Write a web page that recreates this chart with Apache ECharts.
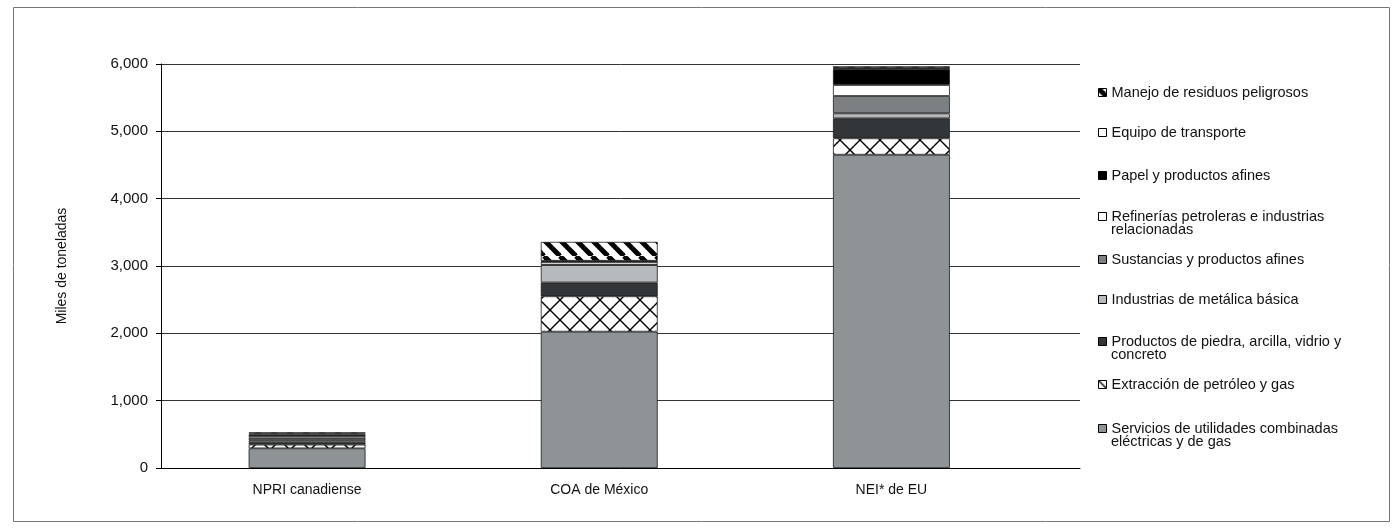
<!DOCTYPE html>
<html><head><meta charset="utf-8">
<script src="https://cdn.jsdelivr.net/npm/echarts@6/dist/echarts.min.js"></script>
<style>html,body{margin:0;padding:0;background:#fff}#c{width:1399px;height:530px}</style>
</head><body><div id="c"></div>
<script>
// ---- data ----
const categories = ['NPRI canadiense', 'COA de México', 'NEI* de EU'];
const yTicks = [0, 1000, 2000, 3000, 4000, 5000, 6000];
// series, bottom of stack to top (miles de toneladas)
const servicios   = [292, 2025, 4653];
const extraccion  = [55, 525, 243];
const piedra      = [35, 205, 297];
const metalica    = [30, 260, 74];
const sustancias  = [30, 5, 258];
const refinerias  = [30, 40, 163];
const papel       = [25, 8, 238];
const equipo      = [15, 10, 15];
const manejo      = [18, 280, 25];

const names = {
  servicios: 'Servicios de utilidades combinadas\neléctricas y de gas',
  extraccion: 'Extracción de petróleo y gas',
  piedra: 'Productos de piedra, arcilla, vidrio y\nconcreto',
  metalica: 'Industrias de metálica básica',
  sustancias: 'Sustancias y productos afines',
  refinerias: 'Refinerías petroleras e industrias\nrelacionadas',
  papel: 'Papel y productos afines',
  equipo: 'Equipo de transporte',
  manejo: 'Manejo de residuos peligrosos'
};

const FONT = 'Liberation Sans, Arial, sans-serif';

// ---- patterns ----
function crossPattern() {
  const s = 20;
  const c = document.createElement('canvas'); c.width = s; c.height = s;
  const g = c.getContext('2d');
  g.fillStyle = '#fff'; g.fillRect(0, 0, s, s);
  g.strokeStyle = '#000'; g.lineWidth = 1.4;
  g.beginPath(); g.moveTo(0, s); g.lineTo(s, 0); g.stroke();
  g.beginPath(); g.moveTo(0, 0); g.lineTo(s, s); g.stroke();
  return c;
}
function stripePattern() {
  const s = 16;
  const c = document.createElement('canvas'); c.width = s; c.height = s;
  const g = c.getContext('2d');
  g.fillStyle = '#fff'; g.fillRect(0, 0, s, s);
  g.strokeStyle = '#000'; g.lineWidth = 5;
  for (let k = -1; k <= 1; k++) {
    g.beginPath(); g.moveTo(k * s, 0); g.lineTo(k * s + s, s); g.stroke();
  }
  return c;
}
const crossFill = { image: crossPattern(), repeat: 'repeat' };
const stripeFill = { image: stripePattern(), repeat: 'repeat' };

const defs = [
  ['servicios', servicios, '#8e9396'],
  ['extraccion', extraccion, crossFill],
  ['piedra', piedra, '#323638'],
  ['metalica', metalica, '#b6babd'],
  ['sustancias', sustancias, '#7c8083'],
  ['refinerias', refinerias, '#ffffff'],
  ['papel', papel, '#000000'],
  ['equipo', equipo, '#ffffff'],
  ['manejo', manejo, stripeFill]
];

const series = defs.map(d => ({
  name: names[d[0]],
  type: 'bar',
  stack: 'total',
  barWidth: '40%',
  xAxisIndex: 0, yAxisIndex: 0,
  data: d[1],
  itemStyle: { color: d[2], borderColor: '#1a1a1a', borderWidth: 0.8 },
  emphasis: { disabled: true }
}));

// legend: top to bottom, [key, center y of first line]
const legendOrder = [
  ['manejo', 92], ['equipo', 132], ['papel', 175], ['refinerias', 216],
  ['sustancias', 259], ['metalica', 299], ['piedra', 341], ['extraccion', 384], ['servicios', 428]
];
const LEG_LEFT = 1098, LEG_TEXT_X = 1111, LINE_H = 14, LEG_FS = 14.5;

const legends = legendOrder.map(l => ({
  data: [names[l[0]]],
  left: LEG_LEFT, top: l[1] - LINE_H / 2,
  padding: 0,
  orient: 'vertical',
  icon: 'rect', itemWidth: 8, itemHeight: 8, itemGap: 0,
  selectedMode: false,
  formatter: n => n.split('\n')[0],
  itemStyle: { borderColor: '#000', borderWidth: 1 },
  textStyle: { fontFamily: FONT, fontSize: LEG_FS, color: '#111', lineHeight: LINE_H, padding: [0, 0, 0, 0] }
}));

// second lines of two-line legend entries
const secondLines = legendOrder.filter(l => names[l[0]].indexOf('\n') >= 0).map(l => ({
  type: 'text', silent: true,
  x: LEG_TEXT_X, y: l[1] + 14,
  style: { text: names[l[0]].split('\n')[1], font: LEG_FS + 'px ' + FONT, fill: '#111', verticalAlign: 'middle' }
}));

const chart = echarts.init(document.getElementById('c'), null, { renderer: 'canvas' });
chart.setOption({
  animation: false,
  backgroundColor: '#fff',
  graphic: [{
    type: 'rect', shape: { x: 13.5, y: 7.5, width: 1376, height: 514 },
    style: { fill: 'none', stroke: '#777', lineWidth: 1 }, silent: true
  }].concat(secondLines),
  legend: legends,
  grid: [
    { left: 161, top: 64, right: 361.5, bottom: 62, containLabel: false },
    { left: 161, top: 64, right: 319, bottom: 62, containLabel: false }
  ],
  xAxis: [{
    gridIndex: 0,
    type: 'category', data: categories,
    axisLine: { show: false },
    axisTick: { show: false },
    axisLabel: { fontFamily: FONT, fontSize: 14, color: '#111', margin: 15 }
  }, {
    gridIndex: 1, type: 'value', min: 0, max: 1,
    axisLine: { show: true, onZero: false, lineStyle: { color: '#000', width: 1 } },
    axisTick: { show: false }, axisLabel: { show: false }, splitLine: { show: false }
  }],
  yAxis: [{
    gridIndex: 0,
    type: 'value', min: yTicks[0], max: yTicks[yTicks.length - 1], interval: 1000,
    name: 'Miles de toneladas', nameLocation: 'middle', nameGap: 92, nameRotate: 90,
    nameTextStyle: { fontFamily: FONT, fontSize: 14, color: '#111' },
    axisLine: { show: true, lineStyle: { color: '#000', width: 1 } },
    axisTick: { show: true, length: 5, lineStyle: { color: '#000' } },
    splitLine: { show: false },
    axisLabel: {
      fontFamily: FONT, fontSize: 15, color: '#111', margin: 13,
      formatter: v => v.toLocaleString('en-US')
    }
  }, {
    gridIndex: 1,
    type: 'value', min: yTicks[0], max: yTicks[yTicks.length - 1], interval: 1000,
    axisLine: { show: false }, axisTick: { show: false }, axisLabel: { show: false },
    splitLine: { show: true, lineStyle: { color: '#333', width: 1 } }
  }],
  series: series
});
</script>
</body></html>
